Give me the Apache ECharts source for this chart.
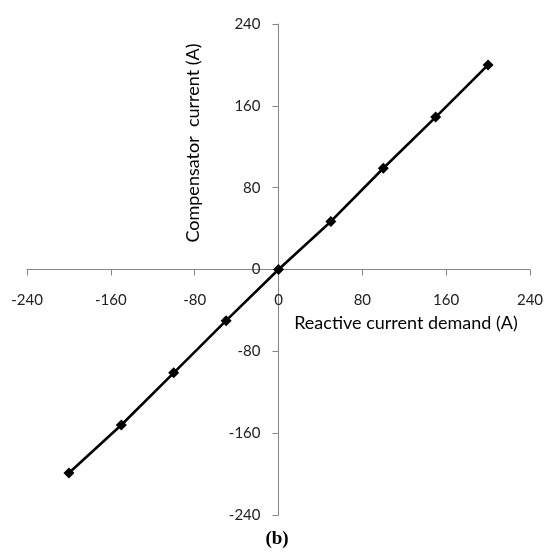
<!DOCTYPE html>
<html lang="en">
<head>
  <meta charset="UTF-8">
  <title>Compensator current</title>
  <style>
    html, body { margin: 0; padding: 0; background: #fff; }
  </style>
</head>
<body>
  <div id="main" style="width: 546px; height: 554px"></div>
  <script src="https://cdn.jsdelivr.net/npm/echarts@6/dist/echarts.min.js"></script>
  <script>
    // reactive current demand (A) vs compensator current (A)
    const demand = [-200, -150, -100, -50, 0, 50, 100, 150, 200];
    const compensator = [-199, -152, -101, -50, 0, 47, 99, 149, 200];
    const axisMin = -240, axisMax = 240, axisStep = 80;

    const points = demand.map((d, i) => [d, compensator[i]]);
    const font = 'Lato, "Open Sans", sans-serif';

    // grid box: x from 27 to 530, y from 24 to 515; axes cross at (278.5, 269.5)
    let myChart = echarts.init(document.getElementById('main'));
    let option = {
      animation: false,
      grid: { left: 27, right: 16, top: 24, bottom: 39, outerBoundsMode: 'none', containLabel: false },
      xAxis: {
        type: 'value',
        position: 'bottom',
        offset: -245.5,
        min: axisMin, max: axisMax, interval: axisStep,
        axisLine: { onZero: false, lineStyle: { color: '#868686', width: 1 } },
        axisTick: { show: true, length: 6, lineStyle: { color: '#868686' } },
        axisLabel: { margin: 23, color: '#222', fontSize: 15, fontFamily: font },
        splitLine: { show: false }
      },
      yAxis: {
        type: 'value',
        position: 'left',
        offset: -251.5,
        min: axisMin, max: axisMax, interval: axisStep,
        axisLine: { onZero: false, lineStyle: { color: '#868686', width: 1 } },
        axisTick: { show: true, length: 6, lineStyle: { color: '#868686' } },
        axisLabel: { margin: 18, color: '#222', fontSize: 15, fontFamily: font },
        splitLine: { show: false }
      },
      graphic: [
        {
          type: 'text', x: 193, y: 143, rotation: Math.PI / 2,
          style: {
            text: 'Compensator  current (A)', fill: '#000',
            font: '18px ' + font, align: 'center', verticalAlign: 'middle'
          }
        },
        {
          type: 'text', x: 406, y: 323,
          style: {
            text: 'Reactive current demand (A)', fill: '#000',
            font: '18px ' + font, align: 'center', verticalAlign: 'middle'
          }
        },
        {
          type: 'text', x: 277, y: 539,
          style: {
            text: '(b)', fill: '#000',
            font: 'bold 19px "Liberation Serif", "DejaVu Serif", serif',
            align: 'center', verticalAlign: 'middle'
          }
        }
      ],
      series: [
        {
          type: 'line',
          data: points,
          symbol: 'diamond',
          symbolSize: 11,
          lineStyle: { color: '#000', width: 2.6 },
          itemStyle: { color: '#000' }
        }
      ]
    };
    myChart.setOption(option);
  </script>
</body>
</html>
